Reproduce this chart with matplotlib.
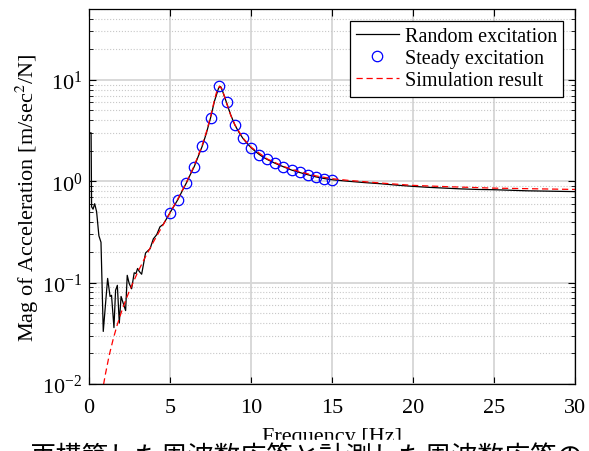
import matplotlib
matplotlib.use("Agg")
import matplotlib.pyplot as plt
from matplotlib.ticker import MultipleLocator, LogLocator, NullFormatter

freq_rand = [0.08, 0.13, 0.16, 0.25, 0.35, 0.47, 0.61, 0.74, 0.88, 1.15, 1.30, 1.39, 1.54, 1.64, 1.75,
             1.87, 1.98, 2.12, 2.26, 2.36, 2.48, 2.63, 2.79, 2.90, 3.00, 3.10, 3.25, 3.49, 3.66, 3.77,
             3.97, 4.18, 4.38, 4.59, 4.80, 5.0, 5.25, 5.5, 5.75, 6.0, 6.25, 6.5, 6.75, 7.0, 7.25, 7.5,
             7.75, 8.0, 8.125, 8.25, 8.5, 8.75, 9.0, 9.25, 9.5, 9.75, 10.0, 10.25, 10.5, 10.75, 11.0,
             11.5, 12.0, 12.5, 13.0, 13.5, 14.0, 14.5, 15.0, 16, 17, 18, 19, 20, 21, 22, 23, 24, 25,
             26, 27, 28, 29, 30]
mag_rand = [3.0, 3.0, 0.56, 0.53, 0.60, 0.50, 0.29, 0.25, 0.033, 0.11, 0.073, 0.075, 0.036, 0.084, 0.094,
            0.040, 0.073, 0.062, 0.053, 0.118, 0.098, 0.087, 0.125, 0.123, 0.138, 0.129, 0.121, 0.196,
            0.208, 0.216, 0.27, 0.297, 0.355, 0.377, 0.43, 0.49, 0.57, 0.665, 0.80, 0.955, 1.16, 1.40,
            1.77, 2.24, 3.0, 4.2, 6.2, 8.3, 8.6, 7.7, 5.9, 4.5, 3.6, 3.05, 2.65, 2.37, 2.15, 1.98, 1.84,
            1.73, 1.64, 1.50, 1.39, 1.29, 1.22, 1.16, 1.105, 1.065, 1.035, 1.0, 0.97, 0.945, 0.915, 0.89,
            0.87, 0.855, 0.84, 0.83, 0.825, 0.815, 0.805, 0.80, 0.795, 0.79]

# steady (sine) excitation points
freq_steady = [5.0, 5.5, 6.0, 6.5, 7.0, 7.5, 8.0, 8.5, 9.0, 9.5, 10.0, 10.5, 11.0, 11.5, 12.0, 12.5,
               13.0, 13.5, 14.0, 14.5, 15.0]
mag_steady = [0.49, 0.66, 0.95, 1.39, 2.22, 4.17, 8.7, 6.0, 3.6, 2.65, 2.15, 1.83, 1.64, 1.50, 1.39,
              1.29, 1.22, 1.16, 1.10, 1.06, 1.04]

# simulation
freq_sim = [0.9, 0.95, 1.0, 1.25, 1.5, 1.75, 2.0, 2.25, 2.5, 3.0, 3.5, 4.0, 4.5, 5.0, 5.5, 6.0, 6.5,
            7.0, 7.25, 7.5, 7.75, 7.9, 8.05, 8.2, 8.35, 8.5, 8.75, 9.0, 9.5, 10, 11, 12, 13, 14, 15,
            16, 18, 20, 22, 25, 28, 30]
mag_sim = [0.0099, 0.0110, 0.0122, 0.0193, 0.028, 0.0387, 0.0513, 0.0661, 0.0833, 0.126, 0.182, 0.256,
           0.354, 0.488, 0.678, 0.964, 1.43, 2.30, 3.08, 4.33, 6.38, 7.85, 8.67, 8.17, 6.97, 5.83, 4.47,
           3.62, 2.67, 2.17, 1.66, 1.40, 1.24, 1.13, 1.06, 1.02, 0.96, 0.91, 0.885, 0.855, 0.84, 0.83]

plt.rcParams['font.family'] = ['Liberation Serif', 'DejaVu Serif']
plt.rcParams['mathtext.fontset'] = 'stix'
plt.rcParams['font.size'] = 16

fig = plt.figure(figsize=(5.89, 4.52), dpi=100)
ax = fig.add_axes([89/589, 1-385/452, (575-89)/589, (385-10)/452])

ax.plot(freq_rand, mag_rand, color='black', lw=0.9, label='Random excitation')
ax.plot(freq_steady, mag_steady, 'o', mfc='none', mec='blue', ms=7.5, mew=0.9, label='Steady excitation')
ax.plot(freq_sim, mag_sim, '--', color='red', lw=0.9, dashes=(5, 3), label='Simulation result')

ax.set_yscale('log')
ax.set_xlim(0, 30); ax.set_ylim(1e-2, 50)
ax.xaxis.set_major_locator(MultipleLocator(5))
ax.yaxis.set_major_locator(LogLocator(base=10, numticks=10))
ax.yaxis.set_minor_locator(LogLocator(base=10, subs=range(2, 10), numticks=20))
ax.yaxis.set_minor_formatter(NullFormatter())
ax.grid(True, which='major', color='#d6d6d6', lw=1.3, ls='-')
ax.grid(True, which='minor', axis='y', color='#c8c8c8', lw=0.8, ls=':')
ax.set_axisbelow(True)
ax.tick_params(which='both', direction='in', top=True, right=True)
ax.tick_params(axis='x', pad=10); ax.tick_params(axis='y', pad=5)
ax.tick_params(which='major', length=5); ax.tick_params(which='minor', length=3)
for s in ax.spines.values(): s.set_linewidth(0.9)

ax.set_xlabel('Frequency [Hz]', labelpad=7.5)
ax.set_ylabel(r'Mag of Acceleration [m/sec$^2$/N]', labelpad=1)

leg = ax.legend(loc='upper right', fancybox=False, edgecolor='black', framealpha=1, borderaxespad=0.6,
                handlelength=2.1, handletextpad=0.3, labelspacing=0.15, borderpad=0.3, fontsize=14.5)
leg.get_frame().set_linewidth(0.9)

# caption line below the chart, clipped at the image edge
fig.add_artist(plt.Rectangle((0, 0), 1, (452-441)/452, transform=fig.transFigure, color='white', zorder=5))
fig.text(30/589, (452-466)/452, '再構築した周波数応答と計測した周波数応答の', ha='left', va='baseline',
         fontsize=19, family=['Noto Sans CJK JP', 'DejaVu Sans'], zorder=6)

fig.savefig('out.png', dpi=100)
